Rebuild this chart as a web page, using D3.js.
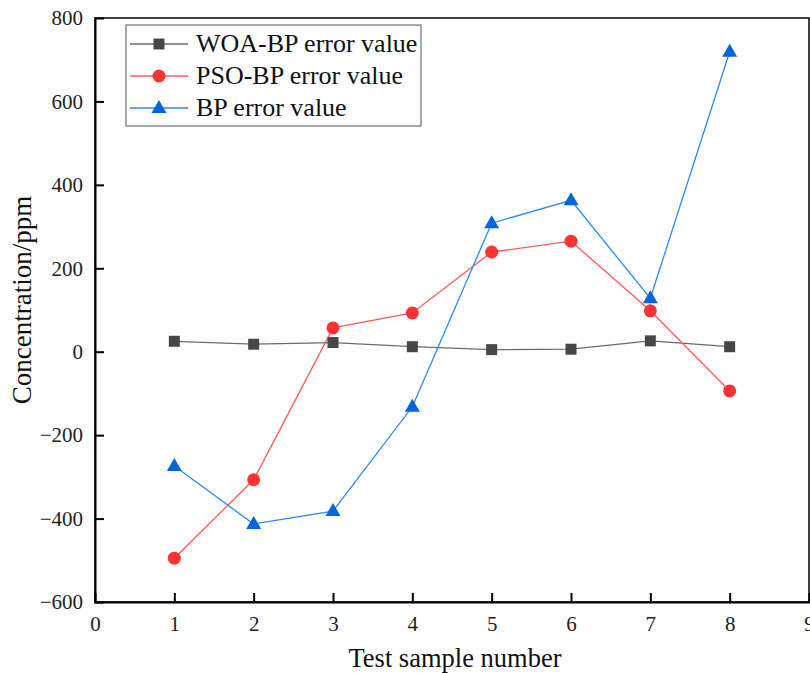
<!DOCTYPE html>
<html><head><meta charset="utf-8">
<script src="https://cdn.jsdelivr.net/npm/d3@7"></script>
<style>body{margin:0;background:#fff}svg{display:block}text{font-family:"Liberation Serif","Times New Roman",serif}</style>
</head><body><svg id="c" width="810" height="673"></svg>
<script>
const samples = [1,2,3,4,5,6,7,8];
const woa = [25,18,22,12,5,6,26,12];
const pso = [-495,-307,57,93,239,265,98,-94];
const bp  = [-274,-413,-382,-132,308,363,128,719];
const xTicks = [0,1,2,3,4,5,6,7,8,9];
const yTicks = [-600,-400,-200,0,200,400,600,800];
const seriesNames = ["WOA-BP error value","PSO-BP error value","BP error value"];

const svg = d3.select("#c");
const L=95, R=809, T=18, B=602;
const x = d3.scaleLinear().domain([0,9]).range([L,R]);
const y = d3.scaleLinear().domain([-600,800]).range([B,T]);
const FF = "'Liberation Serif', 'Times New Roman', serif";

svg.append("rect").attr("x",L).attr("y",T).attr("width",R-L).attr("height",B-T)
  .attr("fill","none").attr("stroke","#000").attr("stroke-width",1.5);

const xa = svg.append("g").attr("transform",`translate(0,${B})`)
  .call(d3.axisBottom(x).tickValues(xTicks).tickSize(-9).tickPadding(14).tickFormat(d3.format("d")));
const ya = svg.append("g").attr("transform",`translate(${L},0)`)
  .call(d3.axisLeft(y).tickValues(yTicks).tickSize(-9).tickPadding(12).tickFormat(d=>d<0?"\u2212"+Math.abs(d):d));
[xa,ya].forEach(a=>{
  a.attr("font-family",null).attr("font-size",null);
  a.select(".domain").attr("stroke","#000").attr("stroke-width",2);
  a.selectAll(".tick line").attr("stroke","#000").attr("stroke-width",2);
  a.selectAll(".tick text").style("font-size","21px").style("font-family",FF).attr("fill","#222");
});
xa.selectAll(".tick").filter(d=>d===0||d===9).select("line").remove();
ya.selectAll(".tick").filter(d=>d===800||d===-600).select("line").remove();
ya.selectAll(".tick text").attr("x",-12);

svg.append("text").attr("x",455).attr("y",667).attr("text-anchor","middle")
  .style("font-size","26.5px").style("font-family",FF).attr("fill","#111").text("Test sample number");
svg.append("text").attr("transform",`translate(31,300) rotate(-90)`).attr("text-anchor","middle")
  .style("font-size","27px").style("font-family",FF).attr("fill","#111").text("Concentration/ppm");

const styles = [
  {data:woa, line:"#6b6b6b", fill:"#474747", shape:"square"},
  {data:pso, line:"#ff5a5a", fill:"#ff3333", shape:"circle"},
  {data:bp,  line:"#2b8bef", fill:"#0066dd", shape:"triangle"}
];
function marker(g, shape, fill){
  if(shape==="square") g.append("rect").attr("x",-5.5).attr("y",-5.5).attr("width",11).attr("height",11).attr("fill",fill);
  else if(shape==="circle") g.append("circle").attr("r",6.5).attr("fill",fill);
  else g.append("path").attr("d","M0,-8L7.5,5L-7.5,5Z").attr("fill",fill);
}
const line = d3.line().x((d,i)=>x(samples[i])).y(d=>y(d));
styles.forEach(s=>{
  svg.append("path").datum(s.data).attr("d",line).attr("fill","none").attr("stroke",s.line).attr("stroke-width",1.3);
});
styles.forEach(s=>{
  s.data.forEach((v,i)=>{
    const g = svg.append("g").attr("transform",`translate(${x(samples[i])},${y(v)})`);
    marker(g, s.shape, s.fill);
  });
});

const lg = svg.append("g");
lg.append("rect").attr("x",126).attr("y",25).attr("width",295).attr("height",101)
  .attr("fill","#fff").attr("stroke","#555").attr("stroke-width",1);
styles.forEach((s,i)=>{
  const yy = 44 + i*32;
  lg.append("line").attr("x1",130).attr("x2",188).attr("y1",yy).attr("y2",yy).attr("stroke",s.line).attr("stroke-width",1.3);
  const g = lg.append("g").attr("transform",`translate(159,${yy})`);
  marker(g, s.shape, s.fill);
  lg.append("text").attr("x",196).attr("y",yy+8).style("font-size","26px").style("font-family",FF).attr("fill","#111").text(seriesNames[i]);
});
</script></body></html>
